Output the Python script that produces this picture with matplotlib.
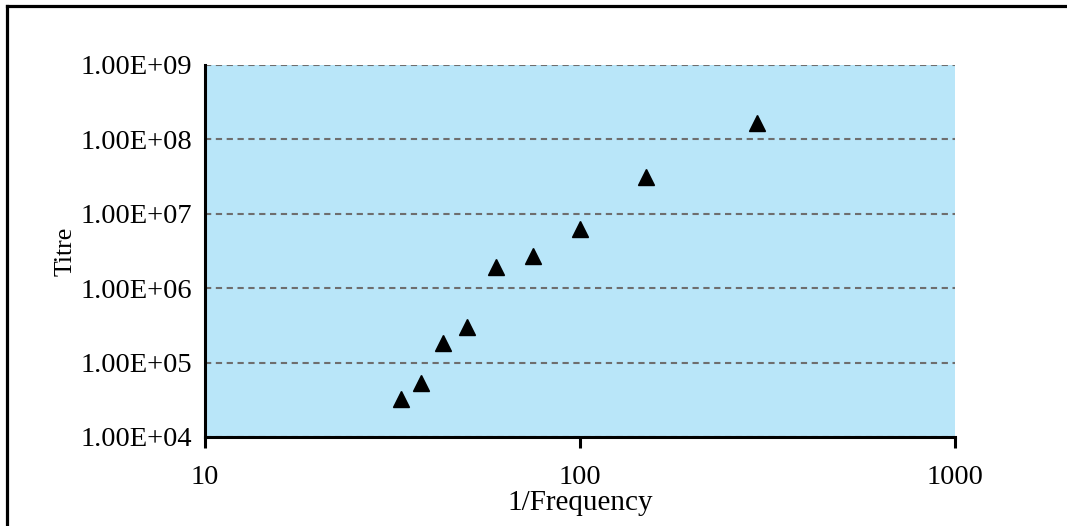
import matplotlib
matplotlib.use('Agg')
import matplotlib.pyplot as plt
from matplotlib.lines import Line2D
from matplotlib.ticker import FixedLocator, FuncFormatter, NullLocator

plt.rcParams['font.family'] = ['Liberation Serif', 'DejaVu Serif']

inv_freq = [33.4, 37.7, 43.1, 50.0, 59.7, 74.8, 100, 150, 296]
titre = [3.25e4, 5.3e4, 1.83e5, 3.0e5, 1.95e6, 2.73e6, 6.2e6, 3.17e7, 1.66e8]
x_ticks = [10, 100, 1000]
y_ticks = [1e4, 1e5, 1e6, 1e7, 1e8, 1e9]

fig = plt.figure(figsize=(10.67, 5.26), dpi=100)
ax = fig.add_axes([205 / 1067, 1 - 437 / 526, 750 / 1067, 372 / 526])
ax.set_facecolor('#B9E6F9')

ax.plot(inv_freq, titre, linestyle='none', marker='^', markersize=12,
        color='black', zorder=3)

ax.set_xscale('log')
ax.set_yscale('log')
ax.set_xlim(10, 1000)
ax.set_ylim(1e4, 1e9)
ax.xaxis.set_major_locator(FixedLocator(x_ticks))
ax.yaxis.set_major_locator(FixedLocator(y_ticks))
ax.xaxis.set_minor_locator(NullLocator())
ax.yaxis.set_minor_locator(NullLocator())
ax.xaxis.set_major_formatter(FuncFormatter(lambda v, p: f'{v:g}'))
ax.yaxis.set_major_formatter(FuncFormatter(lambda v, p: f'{v:.2E}'))

ax.grid(axis='y', color='#6E6E6E', linestyle=(0, (3, 2.2)), linewidth=1.5)
ax.set_axisbelow(True)

for side in ['top', 'right']:
    ax.spines[side].set_visible(False)
for side in ['left', 'bottom']:
    ax.spines[side].set_linewidth(2.2)
    ax.spines[side].set_color('black')

ax.tick_params(axis='x', direction='out', length=8, width=2.2, pad=12,
               labelsize=20.5)
ax.tick_params(axis='y', length=0, pad=9, labelsize=20.5)

ax.set_xlabel('1/Frequency', fontsize=21, labelpad=0)
ax.set_ylabel('Titre', fontsize=18.5, labelpad=3)

# outer chart frame, only left and top edges show
fig.add_artist(Line2D([7 / 1067, 7 / 1067], [0, 1 - 6 / 526],
                      transform=fig.transFigure, color='black', linewidth=2.3))
fig.add_artist(Line2D([7 / 1067, 1], [1 - 6 / 526, 1 - 6 / 526],
                      transform=fig.transFigure, color='black', linewidth=2.3))

fig.savefig('out.png', dpi=100)
